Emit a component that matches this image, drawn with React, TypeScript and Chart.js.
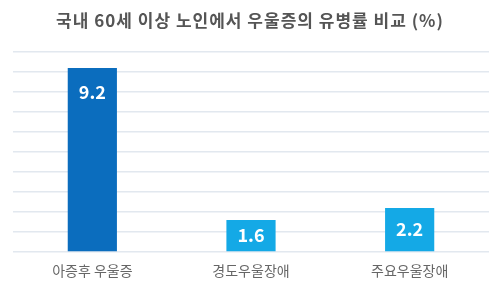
import React, { useEffect, useRef } from "react";
import { Chart, registerables } from "chart.js";

Chart.register(...registerables);

const TITLE = "국내 60세 이상 노인에서 우울증의 유병률 비교 (%)";
const categories = ["아증후 우울증", "경도우울장애", "주요우울장애"];
const values = [9.2, 1.6, 2.2];
const barColors = ["#0b6dbe", "#14a9e6", "#14a9e6"];
const yMax = 10;

const FONT = "'Noto Sans CJK KR', 'Noto Sans', sans-serif";

const labelPlugin = {
  id: "barLabels",
  afterDatasetsDraw(chart: any) {
    const ctx = chart.ctx;
    const meta = chart.getDatasetMeta(0);
    ctx.save();
    ctx.fillStyle = "#ffffff";
    ctx.font = `bold 18px ${FONT}`;
    ctx.textAlign = "center";
    ctx.textBaseline = "middle";
    meta.data.forEach((bar: any, i: number) => {
      const top = bar.y;
      const bottom = bar.base;
      const y = Math.min(top + 24, (top + bottom) / 2);
      ctx.fillText(values[i].toFixed(1), bar.x, y);
    });
    ctx.restore();
  },
};

const titlePlugin = {
  id: "customTitle",
  afterDraw(chart: any) {
    const ctx = chart.ctx;
    ctx.save();
    ctx.fillStyle = "#555555";
    ctx.font = `bold 17px ${FONT}`;
    (ctx as any).letterSpacing = "1px";
    ctx.textAlign = "center";
    ctx.textBaseline = "middle";
    ctx.fillText(TITLE, chart.width / 2, 21);
    ctx.restore();
  },
};

export default function App() {
  const ref = useRef<HTMLCanvasElement>(null);
  useEffect(() => {
    const chart = new Chart(ref.current as HTMLCanvasElement, {
      type: "bar",
      data: {
        labels: categories,
        datasets: [
          {
            data: values,
            backgroundColor: barColors,
            barPercentage: 0.31,
            categoryPercentage: 1,
          },
        ],
      },
      options: {
        animation: false,
        responsive: false,
        maintainAspectRatio: false,
        layout: { padding: { left: 13, right: 11, top: 52, bottom: 0 } },
        plugins: {
          legend: { display: false },
          tooltip: { enabled: false },
          title: { display: false },
        },
        scales: {
          x: {
            grid: { display: false },
            border: { display: false },
            ticks: {
              color: "#666666",
              font: { family: FONT, size: 14 },
              padding: 2,
            },
            afterFit(scale: any) {
              scale.height = 35;
            },
          },
          y: {
            min: 0,
            max: yMax,
            ticks: { display: false, stepSize: 1 },
            border: { display: false },
            grid: { color: "#e2e8ef", lineWidth: 1.5, drawTicks: false },
            afterFit(scale: any) {
              scale.width = 0;
            },
          },
        },
      },
      plugins: [labelPlugin, titlePlugin],
    } as any);
    return () => chart.destroy();
  }, []);
  return (
    <div style={{ position: "fixed", left: 0, top: 0, width: 500, height: 287, background: "#fff" }}>
      <canvas ref={ref} width={500} height={287} style={{ display: "block" }} />
    </div>
  );
}
